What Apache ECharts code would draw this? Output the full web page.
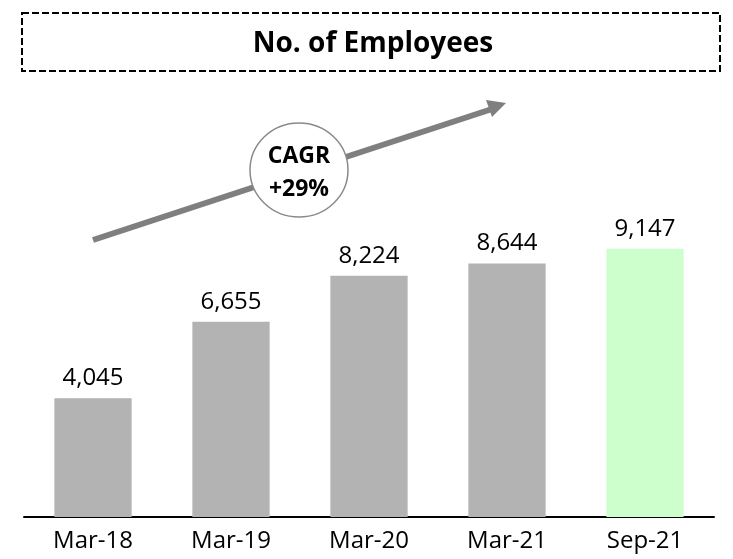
<!DOCTYPE html>
<html>
<head>
<meta charset="utf-8">
<script src="https://cdn.jsdelivr.net/npm/echarts@6/dist/echarts.min.js"></script>
<style>
 html, body { margin: 0; padding: 0; background: #fff; }
 #chart { width: 733px; height: 559px; }
</style>
</head>
<body>
<div id="chart"></div>
<script>
const categories = ['Mar-18', 'Mar-19', 'Mar-20', 'Mar-21', 'Sep-21']
const employees = [4045, 6655, 8224, 8644, 9147]
const barColors = ['#b3b3b3', '#b3b3b3', '#b3b3b3', '#b3b3b3', '#ccffcc']
const titleText = 'No. of Employees'
const cagrText = 'CAGR\n+29%'

const chart = echarts.init(document.getElementById('chart'))
const font = '"Open Sans", sans-serif'

const option = {
 backgroundColor: '#fff',
 animation: false,
 grid: { left: 24, right: 19, top: 165, bottom: 42, containLabel: false },
 xAxis: {
 type: 'category',
 data: categories,
 axisLine: { lineStyle: { color: '#000', width: 2 } },
 axisTick: { show: false },
 axisLabel: { color: '#000', fontSize: 24, fontFamily: font, margin: 12 },
 },
 yAxis: {
 type: 'value',
 min: 0,
 max: 12000,
 show: false,
 splitLine: { show: false },
 },
 series: [{
 type: 'bar',
 barWidth: '56%',
 data: employees.map((v, i) => ({ value: v, itemStyle: { color: barColors[i] } })),
 label: {
 show: true,
 position: 'top',
 distance: 8,
 color: '#000',
 fontSize: 24,
 fontFamily: font,
 formatter: p => p.value.toLocaleString('en-US'),
 },
 }],
 graphic: [
 {
 type: 'rect',
 shape: { x: 22, y: 13, width: 698, height: 58 },
 style: { fill: 'none', stroke: '#000', lineWidth: 2, lineDash: [7, 3] },
 },
 {
 type: 'text',
 x: 373, y: 44,
 style: {
 text: titleText, fill: '#000', font: 'bold 28px ' + font,
 align: 'center', verticalAlign: 'middle',
 },
 },
 {
 type: 'line',
 shape: { x1: 93, y1: 240, x2: 492, y2: 109 },
 style: { stroke: '#7f7f7f', lineWidth: 6 },
 },
 {
 type: 'polygon',
 shape: { points: [[506, 103], [486, 100], [492, 117]] },
 style: { fill: '#7f7f7f' },
 },
 {
 type: 'ellipse',
 shape: { cx: 299, cy: 170, rx: 49, ry: 47 },
 style: { fill: '#fff', stroke: '#8a8a8a', lineWidth: 1.5 },
 },
 {
 type: 'text',
 x: 299, y: 173,
 style: {
 text: cagrText, fill: '#000', font: 'bold 23px ' + font,
 align: 'center', verticalAlign: 'middle', lineHeight: 33,
 },
 },
 ],
}

chart.setOption(option)
window.addEventListener('resize', () => chart.resize())
</script>
</body>
</html>
